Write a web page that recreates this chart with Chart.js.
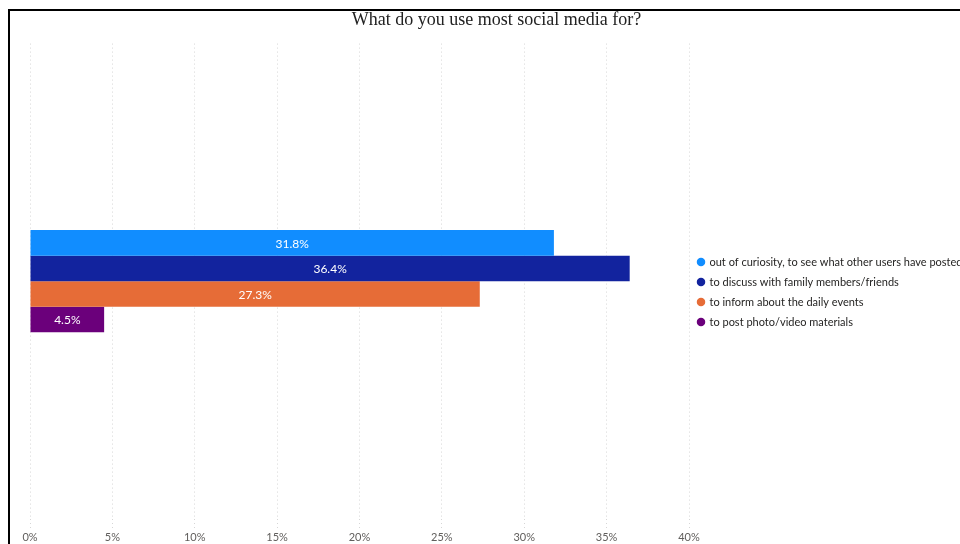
<!DOCTYPE html>
<html>
<head>
<meta charset="utf-8">
<script src="https://cdn.jsdelivr.net/npm/chart.js@4/dist/chart.umd.min.js"></script>
<style>
  html, body { margin: 0; padding: 0; background: #fff; overflow: hidden; width: 960px; height: 544px; }
  #frame { position: absolute; left: 8px; top: 9px; width: 1000px; height: 600px;
           border-left: 2px solid #000; border-top: 2px solid #000; }
  #wrap { position: absolute; left: 10px; top: 9px; width: 953px; height: 537px; }
</style>
</head>
<body>
<div id="frame"></div>
<div id="wrap"><canvas id="chart_main"></canvas></div>
<script>
// chart data
const chartTitle = 'What do you use most social media for?';
const categories = [''];
const seriesNames = [
  'out of curiosity, to see what other users have posted',
  'to discuss with family members/friends',
  'to inform about the daily events',
  'to post photo/video materials'
];
const seriesValues = [31.8, 36.4, 27.3, 4.5];
const seriesColors = ['#118DFF', '#12239E', '#E66C37', '#6B007B'];
const xTicks = [0, 5, 10, 15, 20, 25, 30, 35, 40];

const uiFont = "'Segoe UI', 'Lato', 'Open Sans', sans-serif";

// draws the value label in the middle of each bar
const barLabels = {
  id: 'barLabels',
  afterDatasetsDraw(chart) {
    const ctx = chart.ctx;
    ctx.save();
    ctx.fillStyle = '#fff';
    ctx.font = '12px ' + uiFont;
    ctx.textAlign = 'center';
    ctx.textBaseline = 'middle';
    chart.data.datasets.forEach((ds, i) => {
      chart.getDatasetMeta(i).data.forEach((bar, j) => {
        const v = ds.data[j];
        ctx.fillText(v.toFixed(1) + '%', (bar.base + bar.x) / 2, bar.y + 1);
      });
    });
    ctx.restore();
  }
};

const datasets = seriesNames.map((name, i) => ({
  label: name,
  data: [seriesValues[i]],
  backgroundColor: seriesColors[i],
  borderWidth: 0,
  barPercentage: 1,
  categoryPercentage: 0.215
}));

new Chart(document.getElementById('chart_main').getContext('2d'), {
  type: 'bar',
  data: { labels: categories, datasets: datasets },
  options: {
    indexAxis: 'y',
    responsive: true,
    maintainAspectRatio: false,
    animation: false,
    layout: { padding: { left: 20, right: 0, top: 0, bottom: 0 } },
    plugins: {
      title: {
        display: true,
        text: chartTitle,
        color: '#222',
        font: { family: "'Liberation Serif', 'Times New Roman', serif", size: 18, weight: 'normal' },
        padding: { top: 0, bottom: 13 }
      },
      legend: {
        position: 'right',
        align: 'center',
        maxWidth: 274,
        title: { display: true, text: ' ', font: { size: 10 }, padding: { top: 17, bottom: 0 } },
        labels: {
          usePointStyle: true,
          pointStyle: 'circle',
          boxWidth: 6,
          boxHeight: 6,
          padding: 9,
          color: '#252423',
          font: { family: uiFont, size: 11 }
        }
      },
      tooltip: { enabled: false }
    },
    scales: {
      x: {
        min: 0,
        max: 40,
        afterBuildTicks: axis => { axis.ticks = xTicks.map(v => ({ value: v })); },
        grid: { color: '#d6d6d6', tickLength: 10, drawTicks: true, tickBorderDash: [1, 3] },
        border: { display: false, dash: [1, 3] },
        ticks: {
          color: '#605E5C',
          padding: 2,
          font: { family: uiFont, size: 11 },
          callback: v => v + '%'
        }
      },
      y: {
        display: false
      }
    }
  },
  plugins: [barLabels]
});
</script>
</body>
</html>
